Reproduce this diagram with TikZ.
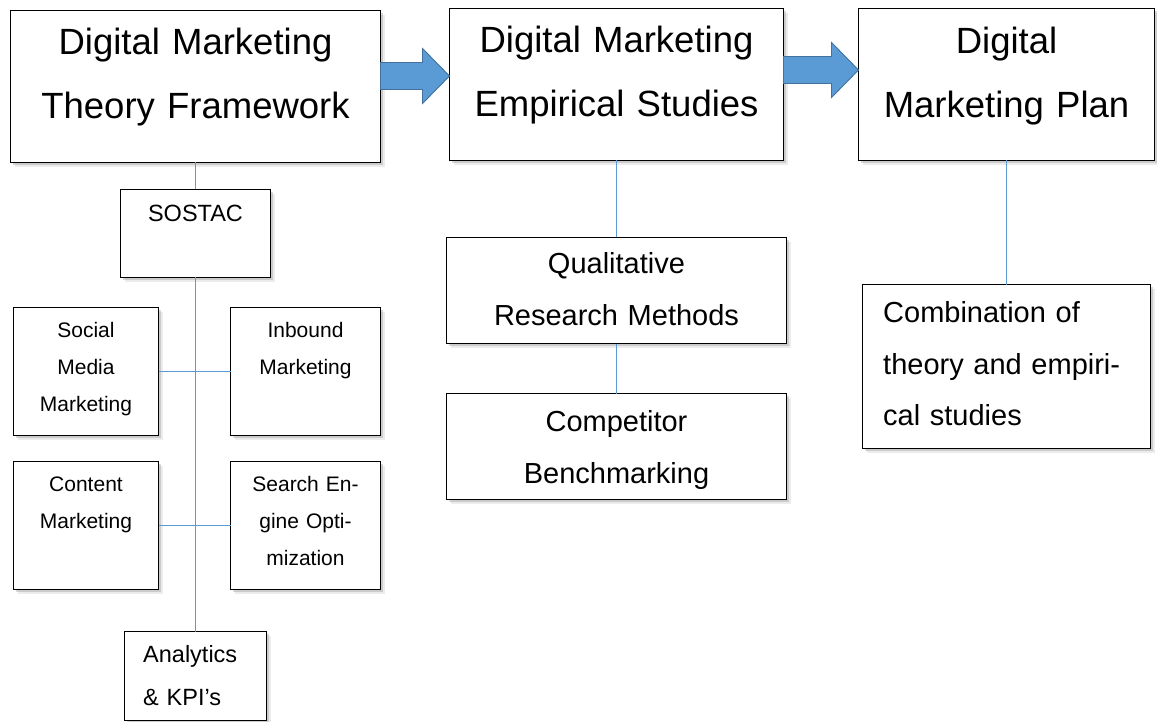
\documentclass[tikz,border=0pt]{standalone}
\usepackage{fontspec}
\setmainfont{Liberation Sans}
\usetikzlibrary{calc,shadows}
\definecolor{officeblue}{HTML}{5B9BD5}
\definecolor{officeedge}{HTML}{41719C}
\def\fatarrow[#1](#2)(#3){\draw[#1] ($(#2)+(0,13.5)$) -- ($(#3)+(-27,13.5)$) -- ($(#3)+(-27,27.5)$) -- (#3) -- ($(#3)+(-27,-27.5)$) -- ($(#3)+(-27,-13.5)$) -- ($(#2)+(0,-13.5)$) -- cycle;}

\begin{document}
\begin{tikzpicture}[x=1pt, y=-1pt,
		box/.style={draw, line width=1pt, fill=white, inner sep=0pt, outer sep=0pt, anchor=north west,
			drop shadow={shadow xshift=4.5pt, shadow yshift=-4.5pt, opacity=.15},
			drop shadow={shadow xshift=2.5pt, shadow yshift=-2.5pt, opacity=.3}},
		link/.style={draw=officeblue, line width=1.2pt},
		bigarrow/.style={fill=officeblue, draw=officeedge, line width=0.9pt, line join=miter},
		bigtext/.style={font=\fontsize{36.5}{64}\selectfont, text width=360pt, align=center, anchor=base, inner sep=0pt},
		midtext/.style={font=\fontsize{29}{52}\selectfont, text width=330pt, align=center, anchor=base, inner sep=0pt},
		smalltext/.style={font=\fontsize{21}{37}\selectfont, text width=140pt, align=center, anchor=base, inner sep=0pt}]
		%%%%% START %%%%%
		
		\useasboundingbox (0,0) rectangle (1157,722);
		
		% top row
		\node[box, minimum width=370pt, minimum height=152pt] (theory) at (10.5,10.5) {};
		\node[box, minimum width=334pt, minimum height=152pt] (empirical) at (449.5,8.5) {};
		\node[box, minimum width=296pt, minimum height=152pt] (plan) at (858.5,8.5) {};
		
		\node[bigtext] (theory-t) at (195.5,55) {Digital Marketing\\Theory Framework};
		\node[bigtext] (empirical-t) at (616.5,53) {Digital Marketing\\Empirical Studies};
		\node[bigtext, text width=290pt] (plan-t) at (1006.5,54) {Digital\\Marketing Plan};
		
		\coordinate (a1) at (theory.east |- 0,76);
		\coordinate (b1) at (empirical.west |- 0,76);
		\coordinate (a2) at (empirical.east |- 0,70);
		\coordinate (b2) at (plan.west |- 0,70);
		\fatarrow[bigarrow](a1)(b1);
		\fatarrow[bigarrow](a2)(b2);
		
		% theory branch
		\node[box, minimum width=150pt, minimum height=88pt] (sostac) at (120.5,189.5) {};
		\node[box, minimum width=145pt, minimum height=128pt] (social) at (13.5,307.5) {};
		\node[box, minimum width=150pt, minimum height=128pt] (inbound) at (230.5,307.5) {};
		\node[box, minimum width=145pt, minimum height=128pt] (content) at (13.5,461.5) {};
		\node[box, minimum width=150pt, minimum height=128pt] (seo) at (230.5,461.5) {};
		\node[box, minimum width=142pt, minimum height=89pt] (analytics) at (124.5,631.5) {};
		
		\node[smalltext, font=\fontsize{23.5}{43}\selectfont] (sostac-t) at (195.5,222) {SOSTAC};
		\node[smalltext] (social-t) at (86,337) {Social\\Media\\Marketing};
		\node[smalltext] (inbound-t) at (305.5,337) {Inbound\\Marketing};
		\node[smalltext] (content-t) at (86,491) {Content\\Marketing};
		\node[smalltext] (seo-t) at (305.5,491) {Search En-\\gine Opti-\\mization};
		\node[smalltext, font=\fontsize{23.5}{43}\selectfont, align=left, anchor=base west] (analytics-t) at (143,662) {Analytics\\\& KPI’s};
		
		% empirical branch
		\node[box, minimum width=340pt, minimum height=106pt] (qualitative) at (446.5,237.5) {};
		\node[box, minimum width=340pt, minimum height=106pt] (competitor) at (446.5,393.5) {};
		
		\node[midtext] (qualitative-t) at (616.5,273) {Qualitative\\Research Methods};
		\node[midtext] (competitor-t) at (616.5,431) {Competitor\\Benchmarking};
		
		% plan branch
		\node[box, minimum width=288pt, minimum height=164pt] (combination) at (862.5,284.5) {};
		\node[midtext, text width=270pt, align=left, anchor=base west] (combination-t) at (883,322) {Combination of\\theory and empiri-\\cal studies};
		
		% links
		\draw[link] (theory.south) -- (sostac.north);
		\draw[link] (sostac.south) -- (analytics.north);
		\draw[link] (social) -- (inbound);
		\draw[link] (content) -- (seo);
		\draw[link] (empirical.south) -- (qualitative.north);
		\draw[link] (qualitative) -- (competitor);
		\draw[link] (plan.south) -- (combination.north);
		
		%%%%% END %%%%%
	\end{tikzpicture}
\end{document}
